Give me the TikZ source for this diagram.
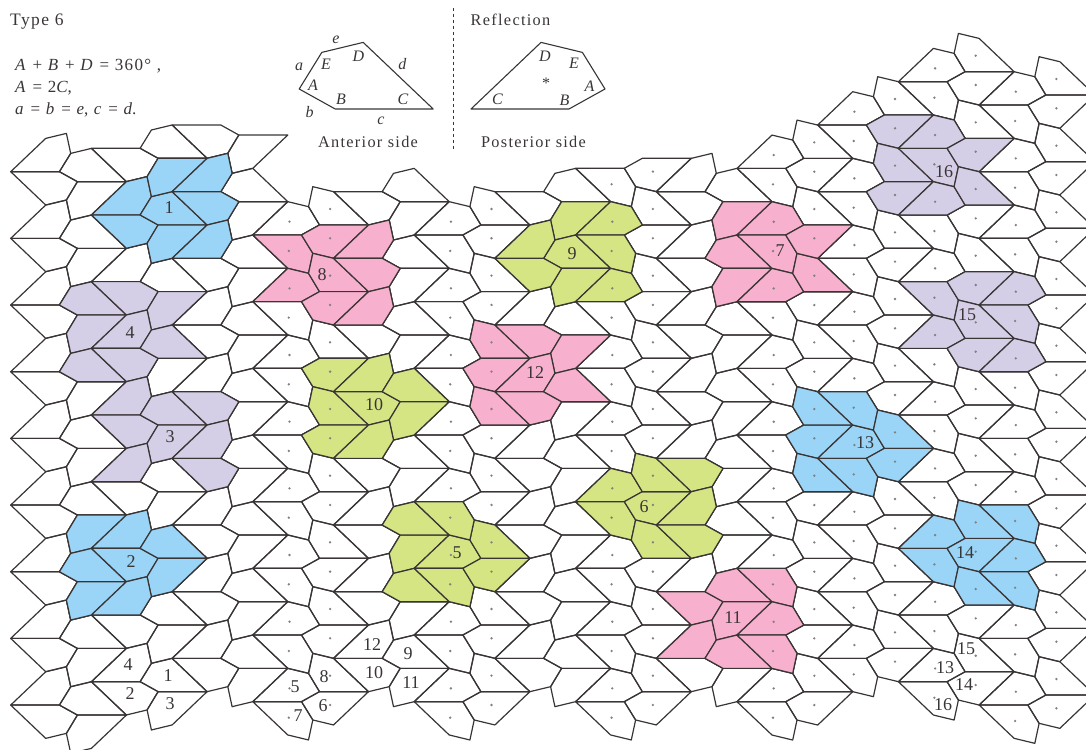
\documentclass[tikz,border=0pt]{standalone}
\usepackage{fontspec}
\setmainfont{Liberation Serif}
\newfontfamily\spacedfont[LetterSpace=8]{Liberation Serif}
\usepackage{xcolor}
\definecolor{inkgray}{HTML}{3A3535}
\definecolor{tileblue}{HTML}{9AD4F6}
\definecolor{tilepink}{HTML}{F7B0CD}
\definecolor{tilegreen}{HTML}{D5E584}
\definecolor{tilepurple}{HTML}{D5CEE7}

% the eight tile outlines, offsets from the start point of a cell
\def\shapeA{(0,0) -- (35,-33.3) -- (55.7,-38.3) -- (60,-18.3) -- (48.7,0) -- cycle}
\def\shapeB{(0,0) -- (48.7,0) -- (66.7,10) -- (55.7,28.3) -- (35,33.3) -- cycle}
\def\shapeC{(60,-18.3) -- (80.7,-23.3) -- (115.7,10) -- (66.7,10) -- (48.7,0) -- cycle}
\def\shapeD{(66.7,10) -- (115.7,10) -- (80.7,43.3) -- (60,48.3) -- (55.7,28.3) -- cycle}
\def\shapeE{(0,0) -- (35,-33.3) -- (55.7,-28.3) -- (66.7,-10) -- (48.7,0) -- cycle}
\def\shapeF{(48.7,0) -- (66.7,-10) -- (115.7,-10) -- (80.7,23.3) -- (60,18.3) -- cycle}
\def\shapeG{(0,0) -- (48.7,0) -- (60,18.3) -- (55.7,38.3) -- (35,33.3) -- cycle}
\def\shapeH{(66.7,-10) -- (115.7,-10) -- (80.7,-43.3) -- (60,-48.3) -- (55.7,-28.3) -- cycle}
\def\spotE{(36.7,-13.3)}
\def\spotF{(77.3,3.3)}
\def\spotG{(36,16)}
\def\spotH{(77.3,-26)}

\newcommand{\cellshift}[2]{%
  \pgfmathsetmacro{\tx}{10.7+80.7*#1}%
  \pgfmathsetmacro{\ty}{{171.7,148.3,125,168.3,125,168.3,125,168.3,125,101.7,125,81.7,105}[#1]+66.67*#2}%
}
% column, row, shape, style
\newcommand{\tile}[4]{%
  \cellshift{#1}{#2}%
  \draw[tilebox,#4,shift={(\tx,\ty)}] \csname shape#3\endcsname;
}
\newcommand{\tilerun}[4]{%
  \foreach \k in {#3,...,#4} {\tile{#1}{\k}{#2}{}}
}
\newcommand{\spotrun}[4]{%
  \foreach \k in {#3,...,#4} {
    \cellshift{#1}{\k}
    \fill[spotdot,shift={(\tx,\ty)}] \csname spot#2\endcsname circle (1.3);
  }
}

\begin{document}
\begin{tikzpicture}[
  x=1pt, y=-1pt,
  tilebox/.style={draw=inkgray, line width=1.2pt, line join=round},
  spotdot/.style={fill=black!50},
  edgebox/.style={draw=inkgray, line width=1.1pt, line join=round},
  num/.style={font=\fontsize{18}{18}\selectfont, text=inkgray, inner sep=0pt},
  head/.style={font=\fontsize{16.3}{18}\selectfont\spacedfont, text=inkgray, inner sep=0pt},
  sym/.style={font=\fontsize{16}{16}\selectfont\itshape, text=inkgray, inner sep=0pt},
  rule/.style={font=\fontsize{17}{18}\selectfont\spacedfont, text=inkgray, inner sep=0pt, anchor=west}
]
\useasboundingbox (0,0) rectangle (1086,749);
\clip (0,0) rectangle (1086,749);

% heading and the two sides of the tile
\node[head, anchor=west, font=\fontsize{17.5}{18}\selectfont\spacedfont] (title) at (10,22) {Type 6};
\node[rule] (ruleone) at (15,66) {\textit{A} + \textit{B} + \textit{D} = 360° ,};
\node[rule] (ruletwo) at (15,88) {\textit{A} = 2\textit{C},};
\node[rule] (rulethree) at (15,110) {\textit{a} = \textit{b} = \textit{e}, \textit{c} = \textit{d}.};

\draw[edgebox] (299.2,89) -- (321.8,52.4) -- (363.2,42.4) -- (433.2,109) -- (335.2,109) -- cycle;
\node[sym] (se) at (336,40) {e};
\node[sym] (sa) at (299,67) {a};
\node[sym] (sb) at (309.5,112) {b};
\node[sym] (sc) at (381,121) {c};
\node[sym] (sd) at (402.4,64) {d};
\node[sym] (ad) at (358.4,56.7) {D};
\node[sym] (ae) at (326,64) {E};
\node[sym] (aa) at (313,85) {A};
\node[sym] (ab) at (341,99) {B};
\node[sym] (ac) at (403,99) {C};
\node[head] (anterior) at (368,141.5) {Anterior side};

\draw[inkgray, dashed, line width=0.9pt] (453,8) -- (453,149);
\node[head] (reflection) at (510.5,20) {Reflection};

\draw[edgebox] (605,89) -- (582.4,52.4) -- (541,42.4) -- (471,109) -- (569,109) -- cycle;
\node[sym] (pd) at (545,56) {D};
\node[sym] (pe) at (574,63) {E};
\node[sym] (pa) at (589.6,86) {A};
\node[sym] (pb) at (564.4,100) {B};
\node[sym] (pc) at (497.5,99) {C};
\node[sym] (pstar) at (545.3,83) {*};
\node[head] (posterior) at (533.5,141.5) {Posterior side};

% anterior columns
\foreach \c/\ka/\kb/\kc/\kd in {0/0/0/0/0, 1/1/0/0/0, 2/1/0/1/0, 4/2/1/1/1, 6/2/1/1/1, 8/1/1/1/1} {
  \tilerun{\c}{A}{\ka}{8}
  \tilerun{\c}{B}{\kb}{8}
  \tilerun{\c}{C}{\kc}{8}
  \tilerun{\c}{D}{\kd}{8}
}
% posterior columns
\foreach \c/\ke/\kf/\kg/\kh/\kz in {3/1/1/1/1/8, 5/1/1/1/1/8, 7/1/0/0/1/8, 9/1/1/1/1/9, 10/0/0/0/0/8, 11/0/0/0/0/9, 12/0/0/0/0/9} {
  \tilerun{\c}{E}{\ke}{\kz}
  \tilerun{\c}{F}{\kf}{\kz}
  \tilerun{\c}{G}{\kg}{\kz}
  \tilerun{\c}{H}{\kh}{\kz}
}

% coloured groups
\foreach \c/\k/\t in {1/1/A, 1/1/B, 1/1/C, 1/1/D, 1/0/D, 2/1/A, 2/1/B, 2/2/A,
                      0/5/D, 0/6/C, 0/6/D, 1/6/A, 1/6/B, 1/6/C, 1/6/D, 1/7/A,
                      9/5/F, 9/5/H, 9/6/H, 10/5/E, 10/5/G, 10/4/G, 10/5/H, 10/5/F,
                      11/7/E, 11/7/G, 11/7/F, 11/7/H, 11/8/H, 12/6/G, 12/7/E, 12/7/G}
  {\tile{\c}{\k}{\t}{fill=tileblue}}
\foreach \c/\k/\t in {0/2/C, 0/2/D, 0/3/C, 1/2/B, 1/2/D, 1/3/A, 1/3/B, 1/3/C,
                      1/4/A, 1/4/B, 1/4/C, 1/4/D, 1/5/A, 2/4/B, 2/5/A, 2/5/B,
                      10/0/F, 10/1/H, 10/1/F, 11/1/E, 11/1/G, 11/1/F, 11/2/E, 11/2/H,
                      11/3/G, 11/3/F, 11/4/E, 11/4/H, 11/4/F, 12/3/E, 12/3/G, 12/4/E}
  {\tile{\c}{\k}{\t}{fill=tilepurple}}
\foreach \c/\k/\t in {3/1/G, 3/2/E, 3/1/F, 3/2/H, 3/2/F, 4/2/A, 4/2/B, 4/3/A,
                      5/3/H, 5/3/F, 5/4/H, 6/3/B, 6/3/D, 6/4/A, 6/4/B, 6/4/C,
                      8/1/D, 8/2/C, 8/2/D, 9/2/E, 9/2/G, 9/3/E, 9/3/H, 9/2/F,
                      8/7/B, 8/8/A, 8/7/C, 8/7/D, 8/8/C, 9/7/G, 9/8/E, 9/8/G}
  {\tile{\c}{\k}{\t}{fill=tilepink}}
\foreach \c/\k/\t in {3/3/F, 3/4/H, 3/4/F, 4/4/A, 4/4/B, 4/4/C, 4/4/D, 4/5/A,
                      4/6/D, 4/6/C, 4/7/C, 5/6/E, 5/6/G, 5/6/F, 5/6/H, 5/5/G,
                      6/1/D, 6/2/C, 6/2/D, 6/2/B, 6/2/A, 7/1/E, 7/1/G, 7/2/E,
                      7/5/E, 7/5/G, 7/5/F, 7/5/H, 7/6/H, 8/5/B, 8/6/A, 8/6/B}
  {\tile{\c}{\k}{\t}{fill=tilegreen}}

% dots of the posterior columns
\foreach \c/\ke/\kf/\kg/\kh/\kz in {3/1/1/1/1/8, 5/1/1/1/1/8, 7/1/0/0/1/8, 9/1/1/1/1/9, 10/0/0/0/0/8, 11/0/0/0/0/9, 12/0/0/0/0/9} {
  \spotrun{\c}{E}{\ke}{\kz}
  \spotrun{\c}{F}{\kf}{\kz}
  \spotrun{\c}{G}{\kg}{\kz}
  \spotrun{\c}{H}{\kh}{\kz}
}

% group numbers
\node[num] (group1) at (169,208) {1};
\node[num] (group2) at (131,562) {2};
\node[num] (group3) at (170,437) {3};
\node[num] (group4) at (130,333) {4};
\node[num] (group5) at (457,553) {5};
\node[num] (group6) at (644,507) {6};
\node[num] (group7) at (780,251) {7};
\node[num] (group8) at (322,275) {8};
\node[num] (group9) at (572,254) {9};
\node[num] (group10) at (374,405) {10};
\node[num] (group11) at (733,618) {11};
\node[num] (group12) at (535,373) {12};
\node[num] (group13) at (865,443) {13};
\node[num] (group14) at (965,553) {14};
\node[num] (group15) at (967,315) {15};
\node[num] (group16) at (944,172) {16};

% tile numbers along the bottom
\node[num] (cell1) at (168,676) {1};
\node[num] (cell2) at (130,694) {2};
\node[num] (cell3) at (170,704) {3};
\node[num] (cell4) at (128,665) {4};
\node[num] (cell5) at (295,687) {5};
\node[num] (cell6) at (323,706) {6};
\node[num] (cell7) at (298,716) {7};
\node[num] (cell8) at (324,677) {8};
\node[num] (cell9) at (408,654) {9};
\node[num] (cell10) at (374,673) {10};
\node[num] (cell11) at (411,683) {11};
\node[num] (cell12) at (372,645) {12};
\node[num] (cell13) at (945,668) {13};
\node[num] (cell14) at (964,685) {14};
\node[num] (cell15) at (966,649) {15};
\node[num] (cell16) at (943,705) {16};
\end{tikzpicture}
\end{document}
